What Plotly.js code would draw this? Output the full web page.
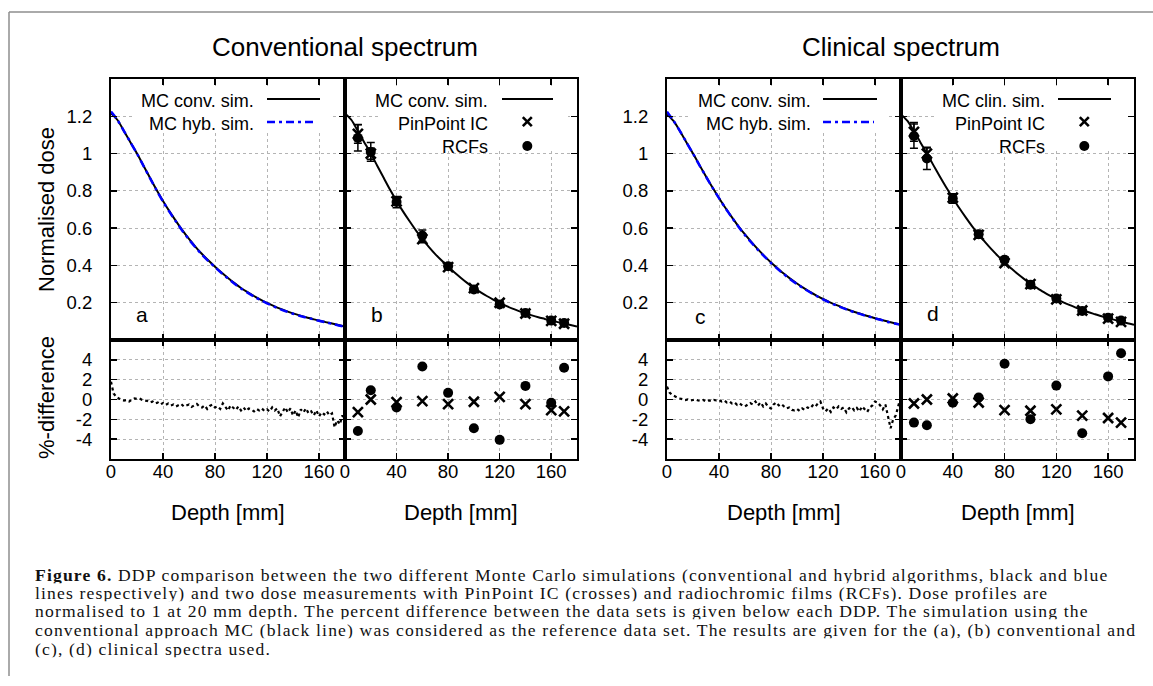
<!DOCTYPE html>
<html>
<head>
<meta charset="utf-8">
<script src="https://cdn.plot.ly/plotly-3.0.1.min.js"></script>
<style>html,body{margin:0;padding:0;background:#fff;}#chart{width:1153px;height:686px;}</style>
</head>
<body>
<div id="chart"></div>
<script>
// ---------------- DATA ----------------
const depthSim = [0,5,10,15,20,25,30,35,40,45,50,55,60,65,70,75,80,85,90,95,100,105,110,115,120,125,130,135,140,145,150,155,160,165,170,175,180];
const convSpecConv = [1.215,1.18,1.12,1.06,1.0,0.935,0.87,0.806,0.746,0.69,0.638,0.588,0.542,0.5,0.461,0.426,0.393,0.362,0.333,0.305,0.279,0.257,0.236,0.217,0.199,0.183,0.168,0.155,0.143,0.132,0.122,0.113,0.104,0.096,0.088,0.08,0.072];
const convSpecHyb  = [1.225,1.18,1.12,1.06,1.0,0.934,0.868,0.804,0.743,0.687,0.635,0.585,0.539,0.497,0.458,0.423,0.39,0.359,0.33,0.302,0.276,0.254,0.233,0.214,0.197,0.181,0.166,0.153,0.141,0.13,0.121,0.112,0.103,0.095,0.087,0.078,0.071];
const clinSpecConv = [1.21,1.175,1.12,1.06,1.0,0.938,0.877,0.818,0.762,0.708,0.658,0.61,0.566,0.525,0.486,0.45,0.416,0.385,0.355,0.328,0.303,0.28,0.258,0.238,0.22,0.203,0.188,0.174,0.161,0.149,0.138,0.127,0.117,0.108,0.099,0.09,0.082];
const clinSpecHyb  = [1.225,1.176,1.12,1.06,1.0,0.937,0.876,0.817,0.761,0.707,0.656,0.608,0.562,0.522,0.483,0.447,0.413,0.382,0.352,0.325,0.3,0.277,0.256,0.236,0.218,0.201,0.186,0.172,0.159,0.147,0.136,0.126,0.116,0.107,0.097,0.089,0.082];

const depthDiff = [0,2,4,6,8,10,12,14,16,18,20,22,24,26,28,30,32,34,36,38,40,42,44,46,48,50,52,54,56,58,60,62,64,66,68,70,72,74,76,78,80,82,84,86,88,90,92,94,96,98,100,102,104,106,108,110,112,114,116,118,120,122,124,126,128,130,132,134,136,138,140,142,144,146,148,150,152,154,156,158,160,162,164,166,168,170,172,174,176,178,180];
const convHybDiff = [1.8,0.6,0.3,0.1,0.0,-0.1,-0.05,-0.2,0.0,0.1,
  0.05,0.1,-0.05,-0.1,-0.15,-0.3,-0.2,-0.4,-0.3,-0.5,
  -0.35,-0.55,-0.4,-0.6,-0.5,-0.7,-0.55,-0.45,-0.7,-0.6,
  -0.5,-0.75,-0.6,-0.45,-0.7,-0.8,-0.6,-0.95,-0.65,-0.5,
  -0.8,-0.7,-0.95,-0.4,-0.75,-1.1,-0.6,-0.85,-1.05,-0.7,
  -1.1,-0.8,-1.15,-0.9,-1.0,-1.2,-0.95,-1.1,-0.9,-1.15,
  -1.0,-1.2,-0.8,-1.1,-0.9,-1.7,-1.2,-0.8,-1.3,-0.9,
  -1.6,-1.1,-1.8,-1.0,-1.3,-0.9,-1.4,-1.2,-1.6,-1.1,
  -1.7,-1.3,-1.5,-1.2,-1.6,-1.4,-2.8,-2.1,-2.5,-1.6,
  -2.2];
const clinHybDiff = [1.3,0.7,0.45,0.3,0.2,0.1,0.05,-0.05,0.0,-0.1,
  -0.05,0.0,-0.1,-0.15,-0.05,-0.2,-0.1,-0.15,-0.05,-0.1,
  -0.05,-0.2,-0.1,-0.3,-0.2,-0.4,-0.3,-0.55,-0.4,-0.6,
  -0.7,-0.5,-0.35,-0.5,-0.2,-0.6,-0.3,-0.7,-0.4,-0.75,
  -0.9,-0.5,-0.3,-0.6,-0.45,-0.7,-0.9,-0.8,-1.05,-1.1,
  -0.95,-1.15,-0.9,-1.05,-0.8,-0.9,-0.6,-0.75,-0.4,-0.2,
  -0.9,-1.2,-0.9,-1.25,-0.8,-1.0,-0.7,-0.95,-0.8,-1.3,
  -0.9,-0.75,-1.1,-0.85,-1.2,-0.7,-1.0,-1.25,-0.8,-0.6,
  -0.2,-0.3,-0.6,-1.0,-0.5,-1.9,-2.9,-2.0,-1.6,-0.6,
  0.3];

const depthMeas = [10,20,40,60,80,100,120,140,160,170];
const convPinPoint = [1.106,1.0,0.744,0.541,0.391,0.278,0.2,0.142,0.103,0.087];
const convRCF      = [1.084,1.009,0.74,0.56,0.396,0.271,0.191,0.145,0.104,0.091];
const convRCFErr   = [0.07,0.05,0.03,0.03,0.015,0.012,0.01,0.008,0.007,0.007];
const convPinPointErr = [0.05,0.03,0.02,0.02,0.01,0.008,0.006,0.005,0.004,0.004];
const clinPinPoint = [1.116,1.0,0.763,0.564,0.412,0.3,0.218,0.158,0.115,0.097];
const clinRCF      = [1.094,0.974,0.759,0.567,0.431,0.297,0.223,0.156,0.12,0.104];
const clinRCFErr   = [0.065,0.06,0.025,0.02,0.015,0.012,0.01,0.008,0.007,0.007];
const clinPinPointErr = [0.05,0.03,0.02,0.015,0.01,0.008,0.006,0.005,0.004,0.004];
const convPinPointDiff = [-1.27,0.0,-0.27,-0.17,-0.47,-0.23,0.27,-0.47,-1.07,-1.2];
const convRCFDiff      = [-3.17,0.93,-0.8,3.33,0.67,-2.9,-4.07,1.37,-0.33,3.2];
const clinPinPointDiff = [-0.4,0.0,0.1,-0.3,-1.07,-1.13,-1.0,-1.63,-1.87,-2.33];
const clinRCFDiff      = [-2.33,-2.6,-0.33,0.2,3.6,-2.0,1.4,-3.4,2.33,4.67];

const xTicks = [0,40,80,120,160];
const doseTicks = [0.2,0.4,0.6,0.8,1.0,1.2];
const doseTickText = ['0.2','0.4','0.6','0.8','1','1.2'];
const diffTicks = [-4,-2,0,2,4];
const diffTickText = ['-4','-2','0','2','4'];

const panelTitles = ['Conventional spectrum','Clinical spectrum'];
const captionLines = [
  '<b>Figure 6.</b> DDP comparison between the two different Monte Carlo simulations (conventional and hybrid algorithms, black and blue',
  'lines respectively) and two dose measurements with PinPoint IC (crosses) and radiochromic films (RCFs). Dose profiles are',
  'normalised to 1 at 20 mm depth. The percent difference between the data sets is given below each DDP. The simulation using the',
  'conventional approach MC (black line) was considered as the reference data set. The results are given for the (a), (b) conventional and',
  '(c), (d) clinical spectra used.'
];

// ---------------- LAYOUT HELPERS ----------------
const W = 1153, H = 686;
const PX = x => x / W;
const PY = y => 1 - y / H;
const FONT = 'Liberation Sans, Arial, sans-serif';
const SERIF = 'Liberation Serif, Times New Roman, serif';

const colX = [[111,345],[345,577],[667,901],[901,1134]];
const rowTop = [79,340], rowBot = [340,459];

const BLUE = '#0000ff';
const blueDash = '8px,4px,3px,4px';
const dotDash = '3px,3px';

function curve(x, y, xa, ya, color, dash, width) {
  return {x: x, y: y, xaxis: xa, yaxis: ya, type: 'scatter', mode: 'lines',
    line: {color: color, width: width, dash: dash, shape: 'spline', smoothing: 0.8},
    showlegend: false, hoverinfo: 'skip'};
}
function pts(x, y, xa, ya, symbol, err) {
  const t = {x: x, y: y, xaxis: xa, yaxis: ya, type: 'scatter', mode: 'markers',
    marker: symbol === 'x'
      ? {symbol: 'x-thin', size: 10, color: 'black', line: {color: 'black', width: 2.6}}
      : {symbol: 'circle', size: 10, color: 'black', line: {width: 0}},
    showlegend: false, hoverinfo: 'skip'};
  if (err) t.error_y = {type: 'data', array: err, visible: true, color: 'black', thickness: 1.5, width: 4};
  return t;
}

const data = [
  curve(depthSim, convSpecConv, 'x', 'y', 'black', 'solid', 2),
  curve(depthSim, convSpecHyb, 'x', 'y', BLUE, blueDash, 2.5),
  curve(depthSim, convSpecConv, 'x2', 'y2', 'black', 'solid', 2),
  pts(depthMeas, convRCF, 'x2', 'y2', 'o', convRCFErr),
  pts(depthMeas, convPinPoint, 'x2', 'y2', 'x', convPinPointErr),
  curve(depthSim, clinSpecConv, 'x3', 'y3', 'black', 'solid', 2),
  curve(depthSim, clinSpecHyb, 'x3', 'y3', BLUE, blueDash, 2.5),
  curve(depthSim, clinSpecConv, 'x4', 'y4', 'black', 'solid', 2),
  pts(depthMeas, clinRCF, 'x4', 'y4', 'o', clinRCFErr),
  pts(depthMeas, clinPinPoint, 'x4', 'y4', 'x', clinPinPointErr),
  {x: depthDiff, y: convHybDiff, xaxis: 'x5', yaxis: 'y5', type: 'scatter', mode: 'lines',
    line: {color: 'black', width: 2.2, dash: dotDash}, showlegend: false, hoverinfo: 'skip'},
  pts(depthMeas, convRCFDiff, 'x6', 'y6', 'o'),
  pts(depthMeas, convPinPointDiff, 'x6', 'y6', 'x'),
  {x: depthDiff, y: clinHybDiff, xaxis: 'x7', yaxis: 'y7', type: 'scatter', mode: 'lines',
    line: {color: 'black', width: 2.2, dash: dotDash}, showlegend: false, hoverinfo: 'skip'},
  pts(depthMeas, clinRCFDiff, 'x8', 'y8', 'o'),
  pts(depthMeas, clinPinPointDiff, 'x8', 'y8', 'x')
];

const layout = {
  width: W, height: H,
  margin: {l: 0, r: 0, t: 0, b: 0},
  paper_bgcolor: 'white', plot_bgcolor: 'white',
  showlegend: false,
  font: {family: FONT, size: 18, color: 'black'},
  annotations: [], shapes: []
};

function xAxis(col, row, anchor) {
  return {domain: [PX(colX[col][0]), PX(colX[col][1])], anchor: anchor,
    range: [0, 180], tickvals: xTicks, ticktext: xTicks.map(String),
    showticklabels: row === 1, ticks: 'inside', ticklen: 6, tickwidth: 1.5, tickcolor: 'black',
    showline: true, linewidth: 2, linecolor: 'black', mirror: 'ticks',
    showgrid: true, gridcolor: '#b4b4b4', griddash: 'dot', gridwidth: 1,
    zeroline: false, tickfont: {family: FONT, size: 18.5}, ticklabelstandoff: -5, fixedrange: true};
}
function yAxis(col, row, anchor) {
  const top = row === 0;
  const r = top ? rowTop : rowBot;
  return {domain: [PY(r[1]), PY(r[0])], anchor: anchor,
    range: top ? [0, 1.4] : [-6, 6],
    tickvals: top ? doseTicks : diffTicks, ticktext: top ? doseTickText : diffTickText,
    showticklabels: (col === 0 || col === 2),
    ticks: 'inside', ticklen: 6, tickwidth: 1.5, tickcolor: 'black',
    showline: true, linewidth: 2, linecolor: 'black', mirror: 'ticks',
    showgrid: true, gridcolor: '#b4b4b4', griddash: 'dot', gridwidth: 1,
    zeroline: false, tickfont: {family: FONT, size: 18.5}, ticklabelstandoff: 13, fixedrange: true};
}
const cells = [[0,0],[1,0],[2,0],[3,0],[0,1],[1,1],[2,1],[3,1]];
cells.forEach((c, i) => {
  const n = i === 0 ? '' : String(i + 1);
  layout['xaxis' + n] = xAxis(c[0], c[1], 'y' + n);
  layout['yaxis' + n] = yAxis(c[0], c[1], 'x' + n);
});

function ann(text, x, y, size, opts) {
  layout.annotations.push(Object.assign({text: text, x: PX(x), y: PY(y), xref: 'paper', yref: 'paper',
    showarrow: false, xanchor: 'center', yanchor: 'middle', font: {family: FONT, size: size, color: 'black'}}, opts || {}));
}
function paperRect(x0, x1, y0, y1) {
  layout.shapes.push({type: 'rect', xref: 'paper', yref: 'paper', x0: PX(x0), x1: PX(x1), y0: PY(y1), y1: PY(y0),
    fillcolor: 'white', line: {width: 0}});
}
function hline(x0, x1, y, color, width, dash) {
  layout.shapes.push({type: 'line', xref: 'paper', yref: 'paper', x0: PX(x0), x1: PX(x1), y0: PY(y), y1: PY(y),
    line: {color: color, width: width, dash: dash || 'solid'}});
}
function crossSample(cx, cy) {
  const s = 4.5;
  layout.shapes.push({type: 'line', xref: 'paper', yref: 'paper', x0: PX(cx - s), x1: PX(cx + s), y0: PY(cy - s), y1: PY(cy + s), line: {color: 'black', width: 2.6}});
  layout.shapes.push({type: 'line', xref: 'paper', yref: 'paper', x0: PX(cx - s), x1: PX(cx + s), y0: PY(cy + s), y1: PY(cy - s), line: {color: 'black', width: 2.6}});
}
function dotSample(cx, cy) {
  const r = 5;
  layout.shapes.push({type: 'circle', xref: 'paper', yref: 'paper', x0: PX(cx - r), x1: PX(cx + r), y0: PY(cy + r), y1: PY(cy - r),
    fillcolor: 'black', line: {color: 'black', width: 0}});
}

// figure frame (open on right and bottom)
layout.shapes.push({type: 'line', xref: 'paper', yref: 'paper', x0: PX(9), x1: PX(1153), y0: PY(12), y1: PY(12), line: {color: '#8e8e8e', width: 1.5}});
layout.shapes.push({type: 'line', xref: 'paper', yref: 'paper', x0: PX(9), x1: PX(9), y0: PY(12), y1: PY(676), line: {color: '#8e8e8e', width: 1.5}});

// white key boxes (the grid is hidden behind the keys)
paperRect(135, 332, 86, 132);
paperRect(378, 568, 86, 151);
paperRect(691, 888, 86, 132);
paperRect(934, 1126, 86, 151);

// panel titles
ann(panelTitles[0], 345, 47, 26);
ann(panelTitles[1], 901, 47, 26);
// axis titles
ann('Normalised dose', 46, 210, 22, {textangle: -90});
ann('%-difference', 46, 398, 22, {textangle: -90});
[228, 461, 784, 1017.5].forEach(x => ann('Depth [mm]', x, 512, 22));
// panel letters
ann('a', 142, 315, 21); ann('b', 377, 314, 21); ann('c', 700, 316, 21); ann('d', 933, 313, 21);

// keys
const keyR = [256, 490, 812.7, 1046.7];
const keyL = [[267,320],[502,553],[823,877],[1058,1111]];
const ky = [100.7, 124, 147.3];
ann('MC conv. sim.', keyR[0], ky[0], 18, {xanchor: 'right'});
ann('MC hyb. sim.', keyR[0], ky[1], 18, {xanchor: 'right'});
hline(keyL[0][0], keyL[0][1], 99, 'black', 2);
hline(keyL[0][0], keyL[0][1] - 3, 122, BLUE, 2.5, blueDash);
ann('MC conv. sim.', keyR[1], ky[0], 18, {xanchor: 'right'});
ann('PinPoint IC', keyR[1], ky[1], 18, {xanchor: 'right'});
ann('RCFs', keyR[1], ky[2], 18, {xanchor: 'right'});
hline(keyL[1][0], keyL[1][1], 99, 'black', 2);
crossSample(527.3, 121.7); dotSample(527.3, 146);
ann('MC conv. sim.', keyR[2], ky[0], 18, {xanchor: 'right'});
ann('MC hyb. sim.', keyR[2], ky[1], 18, {xanchor: 'right'});
hline(keyL[2][0], keyL[2][1], 99, 'black', 2);
hline(keyL[2][0], keyL[2][1] - 3, 122, BLUE, 2.5, blueDash);
ann('MC clin. sim.', keyR[3], ky[0], 18, {xanchor: 'right'});
ann('PinPoint IC', keyR[3], ky[1], 18, {xanchor: 'right'});
ann('RCFs', keyR[3], ky[2], 18, {xanchor: 'right'});
hline(keyL[3][0], keyL[3][1], 99, 'black', 2);
crossSample(1084.3, 121.7); dotSample(1084.3, 146);

// caption
const capY = [574.2, 592.6, 610.8, 629.8, 648.2];
captionLines.forEach((t, i) => ann('<span style="letter-spacing:1.15px">' + t + '</span>', 34, capY[i], 17.6,
  {xanchor: 'left', height: 17.2, borderpad: 0, font: {family: SERIF, size: 17.6, color: '#111'}}));

Plotly.newPlot('chart', data, layout, {staticPlot: true, displayModeBar: false});
</script>
</body>
</html>
